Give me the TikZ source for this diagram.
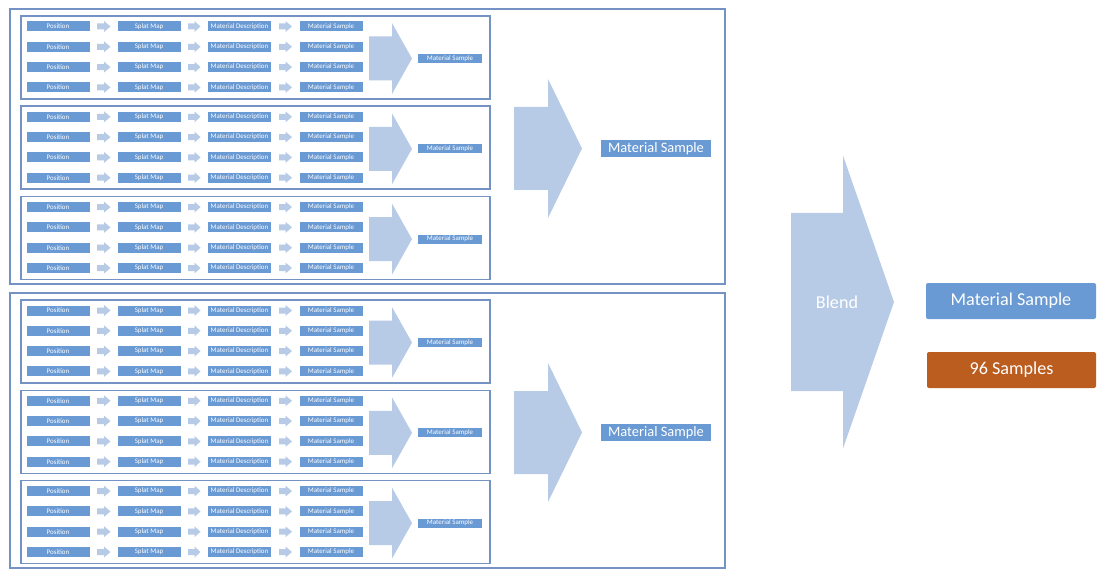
\documentclass[tikz,border=0pt]{standalone}
\usepackage{fontspec}
\setmainfont{Carlito}
\definecolor{boxblue}{HTML}{6A9AD3}
\definecolor{arrowblue}{HTML}{B7CAE6}
\definecolor{frameblue}{HTML}{7493C4}
\definecolor{orangebox}{HTML}{BB5D1F}
\newcommand\barrow[6]{\fill[arrowfill] (#1,#4-#5) -- (#2,#4-#5) -- (#2,#4-#6) -- (#3,#4) -- (#2,#4+#6) -- (#2,#4+#5) -- (#1,#4+#5) -- cycle;}
\tikzset{
  smallbox/.style={fill=boxblue, text=white, font=\fontsize{5.2}{6}\selectfont, minimum width={63*0.75pt}, minimum height={10*0.75pt}, inner sep=0pt},
  midbox/.style={fill=boxblue, text=white, font=\fontsize{10.8}{13}\selectfont, minimum width={110*0.75pt}, minimum height={17*0.75pt}, inner sep=0pt},
  finalbox/.style={rounded corners=1.5pt, text=white, font=\fontsize{13.6}{16}\selectfont, minimum width={170*0.75pt}, minimum height={36*0.75pt}, inner sep=0pt},
  arrowfill/.style={fill=arrowblue},
  frame/.style={draw=frameblue, line width=1.2pt},
}
\begin{document}
\begin{tikzpicture}[x=0.75pt,y=-0.75pt]
\useasboundingbox (0,0) rectangle (1103,581);
\foreach \o in {0,1} {
  \pgfmathsetmacro\oy{284*\o}
  \draw[frame] (10,9+\oy) rectangle (725,284+\oy);
  \foreach \i in {0,1,2} {
    \pgfmathsetmacro\T{16+90.3*\i+\oy}
    \draw[frame] (21,\T) rectangle (490,\T+83);
    \foreach \r in {0,...,3} {
      \pgfmathsetmacro\yc{\T+10.5+20.3*\r}
      \node[smallbox] (pos-\o-\i-\r) at (58,\yc) {Position};
      \node[smallbox] (spl-\o-\i-\r) at (149,\yc) {Splat Map};
      \node[smallbox] (des-\o-\i-\r) at (239.5,\yc) {Material Description};
      \node[smallbox] (sam-\o-\i-\r) at (331,\yc) {Material Sample};
      \barrow{97}{104}{110.5}{\yc}{3}{5.5}
      \barrow{188}{194.5}{200.5}{\yc}{3}{5.5}
      \barrow{279}{285.5}{292}{\yc}{3}{5.5}
    }
    \barrow{369}{392}{412}{\T+42.5}{22}{35.5}
    \node[smallbox, minimum width={64*0.75pt}, minimum height={9*0.75pt}] (res-\o-\i) at (450,\T+42.5) {Material Sample};
  }
  \barrow{514}{548}{582}{148.5+\oy}{41.5}{69.5}
  \node[midbox] (mid-\o) at (656,148.5+\oy) {Material Sample};
}
\barrow{791}{843}{894}{302}{89}{146.5}
\node[text=white, font=\fontsize{13.6}{16}\selectfont] (blend) at (837,302) {Blend};
\node[finalbox, fill=boxblue] (final) at (1011,301) {Material Sample};
\node[finalbox, fill=orangebox, minimum width={169*0.75pt}] (count) at (1011.5,370) {96 Samples};
\end{tikzpicture}
\end{document}
